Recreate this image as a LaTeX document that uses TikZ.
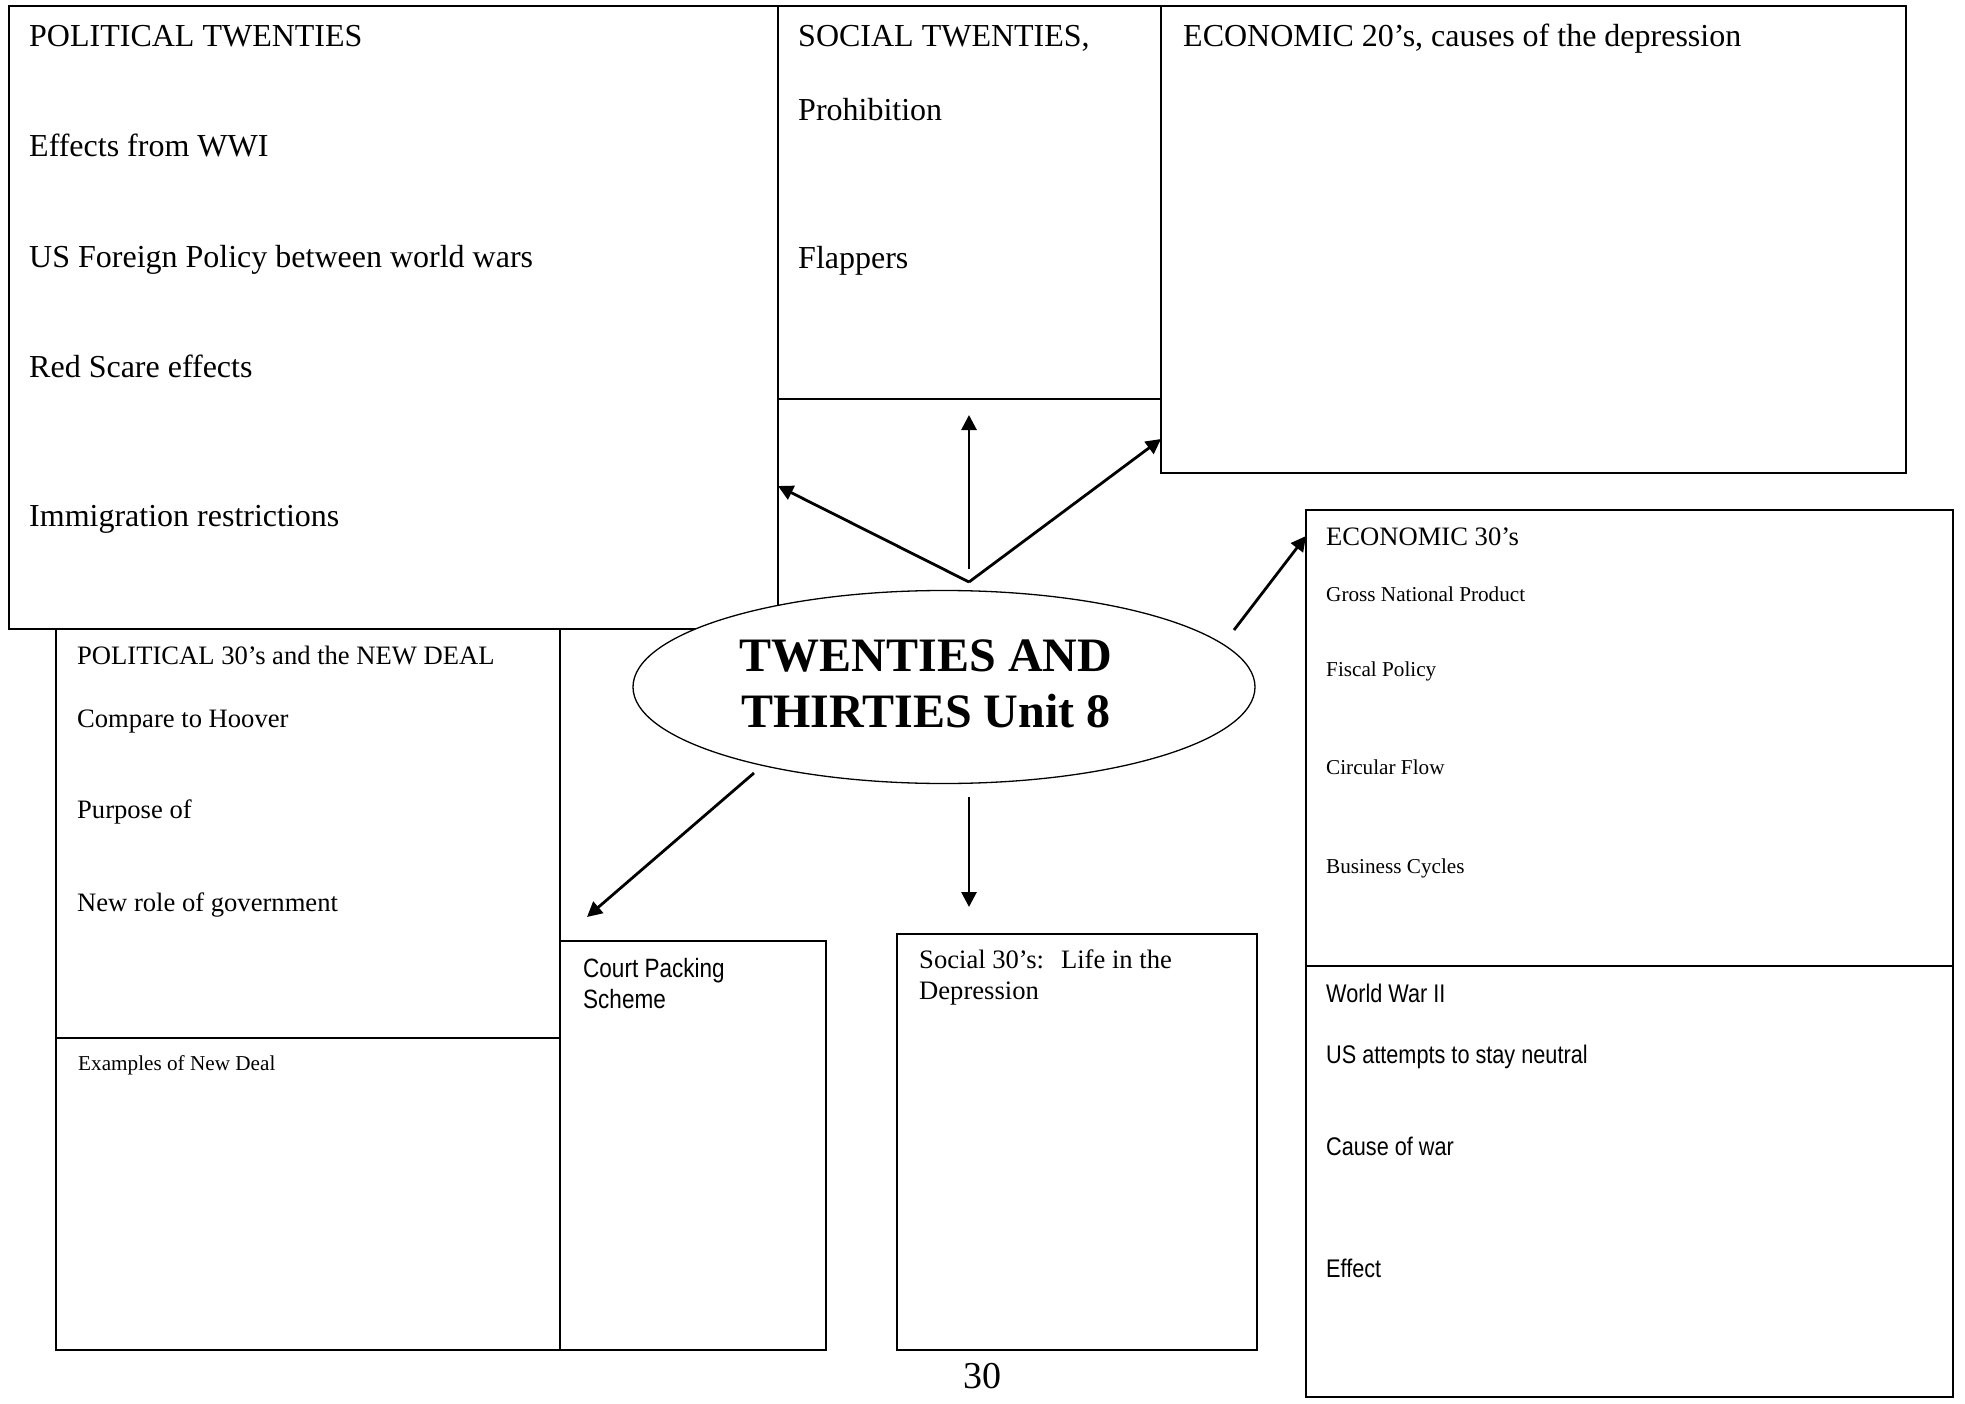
\documentclass[tikz,border=0pt]{standalone}
\usepackage{fontspec}
\setmainfont{Liberation Serif}
\newfontfamily\narrowsf[FakeStretch=0.85]{Liberation Sans}
\usetikzlibrary{positioning,arrows.meta,shapes.geometric}

\begin{document}
\begin{tikzpicture}[x=1pt, y=-1pt,
  box/.style = {draw, line width=1.6pt, inner sep=0pt, outer sep=0pt, anchor=north west},
  big/.style = {anchor=base west, inner sep=0pt, font=\fontsize{32}{38}\selectfont},
  mid/.style = {anchor=base west, inner sep=0pt, font=\fontsize{26.6}{31}\selectfont},
  small/.style = {anchor=base west, inner sep=0pt, font=\fontsize{21.2}{25}\selectfont},
  sans/.style = {anchor=base west, inner sep=0pt, font=\narrowsf\fontsize{25.5}{30}\selectfont},
  arr/.style = {-{Triangle[length=15pt,width=15pt]}, line width=2.8pt}]
  \path [fill=white] (0,0) rectangle (1965,1404);
  \useasboundingbox (0,0) rectangle (1965,1404);

  % boxes
  \node (pol20) at (9,6)      [box, minimum width=769pt, minimum height=623pt] {};
  \node (soc20) at (778,6)    [box, minimum width=383pt, minimum height=393pt] {};
  \node (eco20) at (1161,6)   [box, minimum width=745pt, minimum height=467pt] {};
  \node (eco30) at (1306,510) [box, minimum width=647pt, minimum height=456pt] {};
  \node (ww2)   at (1306,966) [box, minimum width=647pt, minimum height=431pt] {};
  \node (pol30) at (56,629)   [box, minimum width=504pt, minimum height=409pt] {};
  \node (deal)  at (56,1038)  [box, minimum width=504pt, minimum height=312pt] {};
  \node (court) at (560,941)  [box, minimum width=266pt, minimum height=409pt] {};
  \node (soc30) at (897,934)  [box, minimum width=360pt, minimum height=416pt] {};

  % box texts
  \node (pol20a) at (29,47)  [big] {POLITICAL TWENTIES};
  \node (pol20b) at (29,157) [big] {Effects from WWI};
  \node (pol20c) at (29,268) [big] {US Foreign Policy between world wars};
  \node (pol20d) at (29,378) [big] {Red Scare effects};
  \node (pol20e) at (29,526) [big] {Immigration restrictions};
  \node (soc20a) at (798,47)  [big] {SOCIAL TWENTIES,};
  \node (soc20b) at (798,121) [big] {Prohibition};
  \node (soc20c) at (798,269) [big] {Flappers};
  \node (eco20a) at (1183,47) [big] {ECONOMIC 20’s, causes of the depression};
  \node (eco30a) at (1326,545) [mid] {ECONOMIC 30’s};
  \node (eco30b) at (1326,601) [small] {Gross National Product};
  \node (eco30c) at (1326,676) [small] {Fiscal Policy};
  \node (eco30d) at (1326,774) [small] {Circular Flow};
  \node (eco30e) at (1326,873) [small] {Business Cycles};
  \node (ww2a) at (1326,1002) [sans] {World War II};
  \node (ww2b) at (1326,1063) [sans] {US attempts to stay neutral};
  \node (ww2c) at (1326,1155) [sans] {Cause of war};
  \node (ww2d) at (1326,1277) [sans] {Effect};
  \node (pol30a) at (77,664) [mid] {POLITICAL 30’s and the NEW DEAL};
  \node (pol30b) at (77,727) [mid] {Compare to Hoover};
  \node (pol30c) at (77,818) [mid] {Purpose of};
  \node (pol30d) at (77,911) [mid] {New role of government};
  \node (deala)  at (78,1070) [small] {Examples of New Deal};
  \node (courta) at (583,958) [sans, anchor=north west, align=left,
    font=\narrowsf\fontsize{26.5}{31}\selectfont] {Court Packing\\Scheme};
  \node (soc30a) at (919,950) [mid, anchor=north west, align=left] {Social 30’s:\hspace{17pt}Life in the\\Depression};

  % centre
  \node (hub) at (944,687) [ellipse, draw, fill=white, line width=1.3pt, inner sep=0pt,
    minimum width=622pt, minimum height=193pt] {};
  \node (hubtxt) at (926,684) [align=center, inner sep=0pt,
    font=\bfseries\fontsize{48}{56}\selectfont] {TWENTIES AND\\THIRTIES Unit 8};
  \node (page) at (982,1376) [font=\fontsize{38}{42}\selectfont] {30};

  % arrows
  \coordinate (fork)   at (969,582);
  \coordinate (forkup) at (969,569);
  \coordinate (tipl)   at (778,486);
  \coordinate (tipu)   at (969,415);
  \coordinate (tipr)   at (1161,439);
  \coordinate (e30s)   at (1234,630);
  \coordinate (e30t)   at (1306,536);
  \coordinate (cps)    at (754,773);
  \coordinate (cpt)    at (587,917);
  \coordinate (s30s)   at (969,797);
  \coordinate (s30t)   at (969,907);
  \draw [arr] (fork) -- (tipl);
  \draw [arr] (forkup) -- (tipu);
  \draw [arr] (fork) -- (tipr);
  \draw [arr] (e30s) -- (e30t);
  \draw [arr] (cps) -- (cpt);
  \draw [arr] (s30s) -- (s30t);
\end{tikzpicture}
\end{document}
